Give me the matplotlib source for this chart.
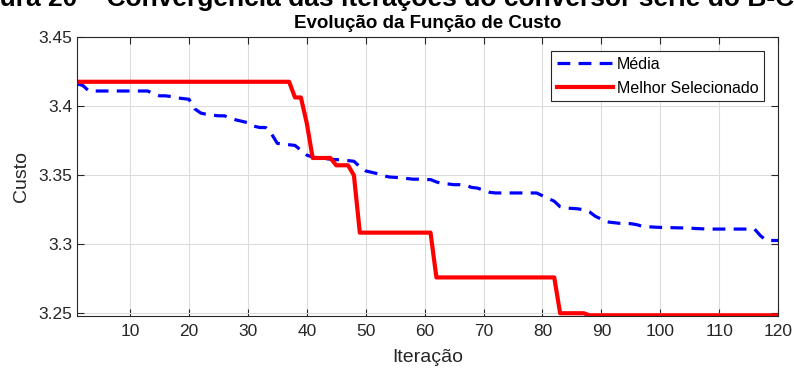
import numpy as np
import matplotlib
matplotlib.use('Agg')
import matplotlib.pyplot as plt

plt.rcParams['font.family'] = ['Liberation Sans', 'DejaVu Sans']

# iteration number
iteracao = np.arange(1, 121)

# average cost per iteration (blue dashed)
media = [3.4162, 3.4150, 3.4110, 3.4110, 3.4110, 3.4110, 3.4110, 3.4110, 3.4110, 3.4110,
         3.4110, 3.4110, 3.4110, 3.4090, 3.4075, 3.4075, 3.4070, 3.4060, 3.4055, 3.4050,
         3.3980, 3.3950, 3.3940, 3.3935, 3.3930, 3.3930, 3.3915, 3.3900, 3.3890, 3.3880,
         3.3855, 3.3845, 3.3845, 3.3800, 3.3730, 3.3725, 3.3720, 3.3715, 3.3680, 3.3645,
         3.3630, 3.3625, 3.3620, 3.3615, 3.3612, 3.3610, 3.3605, 3.3600, 3.3560, 3.3530,
         3.3520, 3.3510, 3.3495, 3.3486, 3.3483, 3.3480, 3.3475, 3.3470, 3.3470, 3.3468,
         3.3467, 3.3450, 3.3438, 3.3435, 3.3430, 3.3430, 3.3425, 3.3410, 3.3405, 3.3390,
         3.3375, 3.3370, 3.3370, 3.3370, 3.3370, 3.3370, 3.3370, 3.3370, 3.3370, 3.3350,
         3.3330, 3.3310, 3.3270, 3.3260, 3.3258, 3.3255, 3.3248, 3.3232, 3.3200, 3.3180,
         3.3160, 3.3155, 3.3150, 3.3150, 3.3147, 3.3140, 3.3127, 3.3125, 3.3122, 3.3120,
         3.3119, 3.3118, 3.3117, 3.3116, 3.3115, 3.3112, 3.3110, 3.3108, 3.3108, 3.3108,
         3.3108, 3.3108, 3.3108, 3.3108, 3.3108, 3.3108, 3.3060, 3.3025, 3.3025, 3.3025]

# best selected cost per iteration (red solid)
melhor = [3.4177] * 37 + \
         [3.4063, 3.4063, 3.3876, 3.3624, 3.3624, 3.3624, 3.3624, 3.3571, 3.3571, 3.3571,
          3.3498] + \
         [3.3082] * 13 + \
         [3.2757] * 21 + \
         [3.2497] * 5 + \
         [3.2482] * 33

fig = plt.figure(figsize=(7.94, 3.69), dpi=100)
ax = fig.add_axes([0.097, 0.144, 0.883, 0.755])

ax.plot(iteracao, media, color='#0000ff', lw=2.3, ls=(0, (4.0, 2.6)), label='Média')
ax.plot(iteracao, melhor, color='#ff0000', lw=3.0, label='Melhor Selecionado')

ax.set_xlim(1, 120)
ax.set_ylim(3.2478, 3.45)
ax.set_xticks(np.arange(10, 121, 10))
ax.set_yticks([3.25, 3.3, 3.35, 3.4, 3.45])
ax.set_yticklabels(['3.25', '3.3', '3.35', '3.4', '3.45'])
ax.grid(True, color='#dcdcdc', lw=0.8)
ax.set_axisbelow(True)
ax.tick_params(direction='in', top=True, right=True, labelsize=12.5,
               colors='#262626', length=5, width=0.8)
ax.tick_params(axis='x', pad=6)
for s in ax.spines.values():
    s.set_color('#262626')
    s.set_linewidth(0.8)

ax.set_xlabel('Iteração', fontsize=14, color='#262626', labelpad=7)
ax.set_ylabel('Custo', fontsize=14, color='#262626', labelpad=6)
ax.set_title('Evolução da Função de Custo', fontsize=13.5, fontweight='bold', pad=7)

leg = ax.legend(loc='upper right', bbox_to_anchor=(0.98, 0.95), fontsize=11.5,
                handlelength=3.5, fancybox=False, framealpha=1, borderpad=0.35,
                labelspacing=0.55, handletextpad=0.25, borderaxespad=0)
leg.get_frame().set_edgecolor('#262626')
leg.get_frame().set_linewidth(0.8)

# figure caption cut at top of the image
fig.text(-0.05, 0.984, 'Figura 20 – Convergência das iterações do conversor série do B-C',
         fontsize=19, fontweight='bold', va='baseline', ha='left')

fig.savefig('out.png', dpi=100)
